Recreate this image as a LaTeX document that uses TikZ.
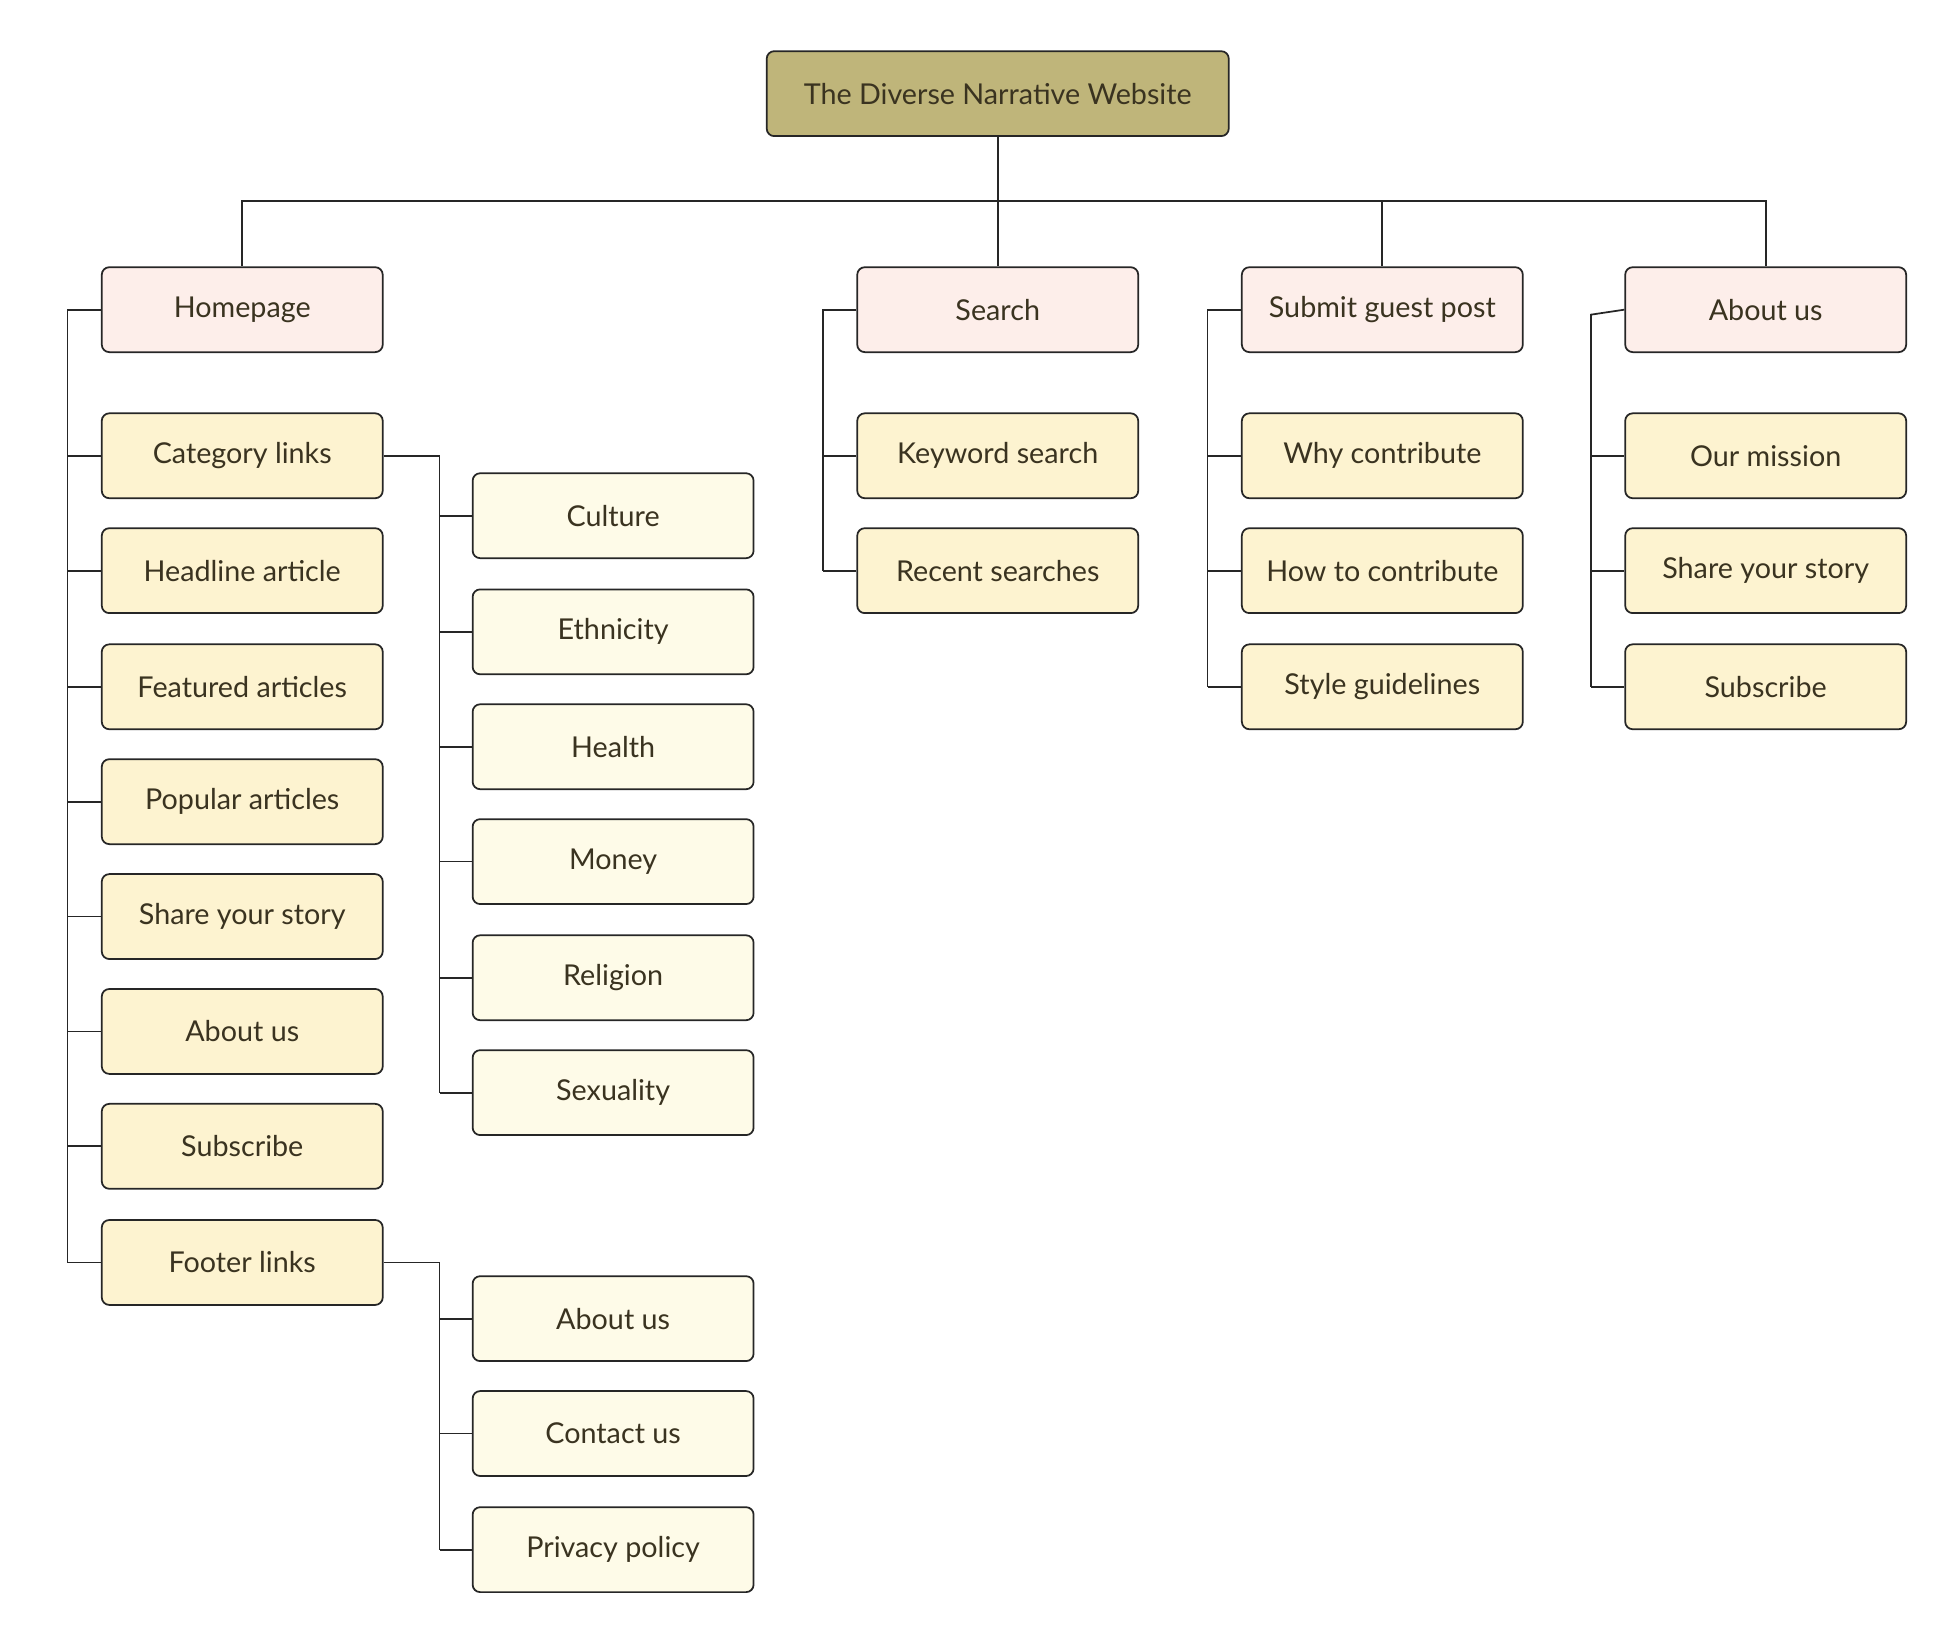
\documentclass[tikz,border=0pt]{standalone}
\usepackage{fontspec}
\setmainfont{Lato}
\definecolor{rootc}{HTML}{BFB57A}
\definecolor{l1c}{HTML}{FDEEEA}
\definecolor{l2c}{HTML}{FDF3D0}
\definecolor{l3c}{HTML}{FEFBE8}
\definecolor{txt}{HTML}{3A3320}
\begin{document}
\begin{tikzpicture}[x=0.5pt,y=-0.5pt,
  box/.style={draw=black!85,line width=0.7pt,rounded corners=3pt,minimum width=112.5pt,minimum height=34pt,font=\fontsize{11.5}{13}\selectfont,text=txt},
  root/.style={box,fill=rootc,minimum width=185pt},
  l1/.style={box,fill=l1c},l2/.style={box,fill=l2c},l3/.style={box,fill=l3c},
  ln/.style={line width=0.7pt,black!85}]
\useasboundingbox (0,0) rectangle (1552,1305);
\node[root] (root) at (799,75) {The Diverse Narrative Website};
\node[l1] (home) at (194,248) {Homepage};
\node[l1] (search) at (799,248) {Search};
\node[l1] (submit) at (1107,248) {Submit guest post};
\node[l1] (about) at (1414,248) {About us};
\coordinate (bus) at (799,161);
\draw[ln] (root.south) -- (bus);
\foreach \n in {home,search,submit,about} \draw[ln] (bus) -| (\n.north);
% homepage children
\foreach \name/\t/\y in {cat/Category links/365,head/Headline article/457,feat/Featured articles/550,pop/Popular articles/642,share/Share your story/734,hab/About us/826,hsub/Subscribe/918,foot/Footer links/1011}{
  \node[l2] (\name) at (194,\y) {\t};
  \coordinate (s\name) at (54,\y);
  \draw[ln] (s\name) -- (\name.west);}
\coordinate (shome) at (54,248);
\draw[ln] (home.west) -- (shome) -- (sfoot);
% category children
\coordinate (cs) at (352,365);
\draw[ln] (cat.east) -- (cs);
\foreach \name/\t/\y in {cul/Culture/413,eth/Ethnicity/506,hea/Health/598,mon/Money/690,rel/Religion/783,sex/Sexuality/875}{
  \node[l3] (\name) at (491,\y) {\t};
  \coordinate (c\name) at (352,\y);
  \draw[ln] (c\name) -- (\name.west);}
\draw[ln] (cs) -- (csex);
% footer children
\coordinate (fs) at (352,1011);
\draw[ln] (foot.east) -- (fs);
\foreach \name/\t/\y in {fab/About us/1056,fcon/Contact us/1148,fpri/Privacy policy/1241}{
  \node[l3] (\name) at (491,\y) {\t};
  \coordinate (c\name) at (352,\y);
  \draw[ln] (c\name) -- (\name.west);}
\draw[ln] (fs) -- (cfpri);
% search
\foreach \name/\t/\y in {kw/Keyword search/365,rs/Recent searches/457}{
  \node[l2] (\name) at (799,\y) {\t};
  \coordinate (c\name) at (659,\y);
  \draw[ln] (c\name) -- (\name.west);}
\coordinate (ss) at (659,248);
\draw[ln] (search.west) -- (ss) -- (crs);
% submit
\foreach \name/\t/\y in {why/Why contribute/365,how/How to contribute/457,sty/Style guidelines/550}{
  \node[l2] (\name) at (1107,\y) {\t};
  \coordinate (c\name) at (967,\y);
  \draw[ln] (c\name) -- (\name.west);}
\coordinate (su) at (967,248);
\draw[ln] (submit.west) -- (su) -- (csty);
% about
\foreach \name/\t/\y in {mis/Our mission/365,asy/Share your story/457,asu/Subscribe/550}{
  \node[l2] (\name) at (1414,\y) {\t};
  \coordinate (c\name) at (1274,\y);
  \draw[ln] (c\name) -- (\name.west);}
\coordinate (as) at (1274,252);
\draw[ln] (about.west) -- (as) -- (casu);
\end{tikzpicture}
\end{document}
